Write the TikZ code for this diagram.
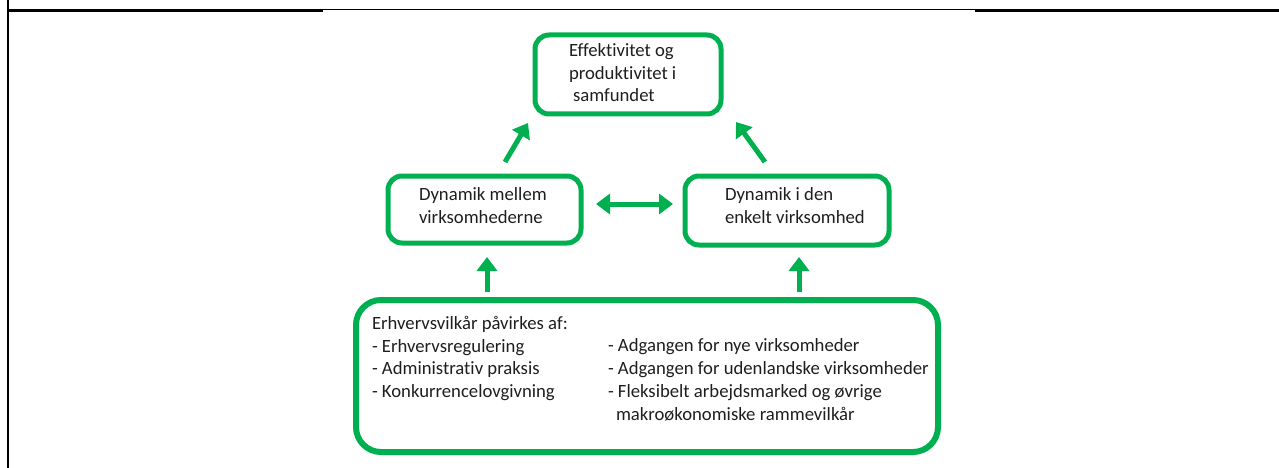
\documentclass[tikz,border=0pt]{standalone}
\usepackage{fontspec}
\setmainfont[Ligatures=NoCommon]{Carlito}
\usetikzlibrary{arrows.meta,calc}
\definecolor{ogreen}{HTML}{00B050}
\definecolor{txt}{HTML}{1E1E1E}
\tikzset{
  gbox/.style={draw=ogreen, line width=5pt, rounded corners=14pt, inner sep=0pt, outer sep=0pt},
  lbl/.style={anchor=base west, inner sep=0pt, outer sep=0pt, align=left, text=txt,
    font=\fontsize{18.7pt}{22.7pt}\selectfont},
  garrow/.style={draw=ogreen, line width=5pt, -{Triangle[width=20pt,length=14pt]}},
  gdarrow/.style={draw=ogreen, line width=5pt, {Triangle[width=20pt,length=14pt]}-{Triangle[width=20pt,length=14pt]}},
}
\begin{document}
\begin{tikzpicture}[x=1pt,y=-1pt]
\useasboundingbox (0,0) rectangle (1279,468);
% frame lines
\draw[line width=2.6pt] (8,0) -- (8,468);
\draw[line width=2.3pt] (8,10.5) -- (323,10.5);
\draw[line width=1pt] (323,10) -- (975,10);
\draw[line width=2.3pt] (975,10.5) -- (1279,10.5);
% boxes
\node[gbox, minimum width=186pt, minimum height=79pt] (top) at (628,74.5) {};
\node[gbox, minimum width=193pt, minimum height=67pt] (dl) at (484.5,209.5) {};
\node[gbox, minimum width=204pt, minimum height=69pt] (dr) at (787,210.5) {};
\node[gbox, rounded corners=25pt, line width=6pt, minimum width=582pt, minimum height=152pt] (bot) at (647,376) {};
% texts (anchored at the baseline of the last line)
\node[lbl] (ttop) at (569,102) {Effektivitet og\\produktivitet i\\\hspace*{4pt}samfundet};
\node[lbl] (tdl) at (419,223) {Dynamik mellem\\virksomhederne};
\node[lbl] (tdr) at (725,223) {Dynamik i den\\enkelt virksomhed};
\node[lbl] (tb1) at (372,397.5) {Erhvervsvilkår påvirkes af:\\- Erhvervsregulering\\- Administrativ praksis\\- Konkurrencelovgivning};
\node[lbl] (tb2) at (608,420) {- Adgangen for nye virksomheder\\- Adgangen for udenlandske virksomheder\\- Fleksibelt arbejdsmarked og øvrige\\\hspace*{8pt}makroøkonomiske rammevilkår};
% arrows
\draw[garrow, shorten <=8pt, shorten >=14pt] ([xshift=2.5pt]dl.south |- bot.north) -- ([xshift=2.5pt]dl.south);
\draw[garrow, shorten <=8pt, shorten >=12pt] ([xshift=12pt]dr.south |- bot.north) -- ([xshift=12pt]dr.south);
\draw[gdarrow, shorten <=15pt, shorten >=12pt] ([yshift=5.5pt]dl.east) -- ([yshift=5.5pt]dl.east -| dr.west);
\draw[garrow] ([xshift=20.5pt,yshift=14pt]dl.north) -- ([xshift=-7pt,yshift=-9pt]top.south west);
\draw[garrow] ([xshift=-22pt,yshift=14pt]dr.north) -- ([xshift=15pt,yshift=-8pt]top.south east);
\end{tikzpicture}
\end{document}
